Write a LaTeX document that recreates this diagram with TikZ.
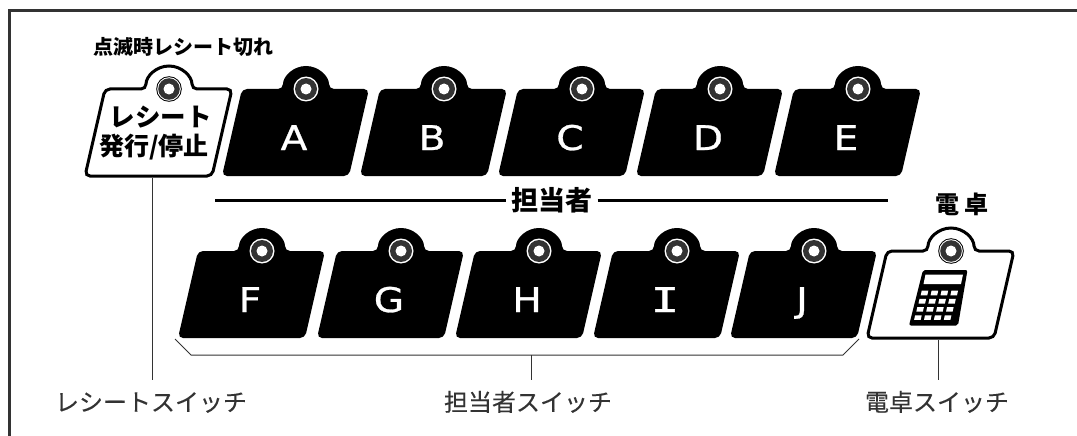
\documentclass[tikz,border=0pt]{standalone}
\usepackage{fontspec}
\setmainfont{Noto Sans CJK JP}
\newfontfamily\labelfont[FakeBold=0.25]{Noto Sans CJK JP}
\newfontfamily\keyfont[FakeStretch=1.15,FakeBold=0.8]{DejaVu Sans}
\newfontfamily\keymono[FakeStretch=1.4,FakeBold=0.8]{DejaVu Sans Mono}
\usetikzlibrary{positioning}
\definecolor{inkgray}{HTML}{333333}

\tikzset{
  keyshape/.pic={
    \path[pic actions,rounded corners=5pt] (-64,0) -- (-23,0)
      arc[start angle=180,end angle=0,radius=23] -- (63,0)
      -- (43,-87) -- (-84,-87) -- cycle;
  },
  blackkey/.pic={
    \pic[fill=black] {keyshape};
    \fill[white] (0,0) circle (12.5);
    \fill[inkgray] (0,0) circle (11);
    \fill[white] (0,0) circle (5.5);
  },
  whitekey/.pic={
    \pic[draw=black,fill=white,line width=3pt] {keyshape};
    \fill[black] (0,0) circle (12.8);
    \fill[white] (0,0) circle (11.8);
    \fill[inkgray] (0,0) circle (10.8);
    \fill[white] (0,0) circle (5.5);
  }
}

\begin{document}
\begin{tikzpicture}[x=1pt,y=1pt,
    keyletter/.style={anchor=base,inner sep=0pt,text=white,
      font=\keyfont\fontsize{34}{34}\selectfont},
    boldtext/.style={inner sep=0pt,text=black,font=\bfseries\fontsize{20}{24}\selectfont},
    swlabel/.style={anchor=base,inner sep=0pt,text height=31pt,text=inkgray,
      font=\labelfont\fontsize{24}{28}\selectfont},
    leader/.style={draw=inkgray,line width=1pt}]

  \useasboundingbox (0,0) rectangle (1077,-436);

  % frame, open to the right and below
  \draw[inkgray,line width=3pt] (9,-436) -- (9,-11) -- (1077,-11);

  \foreach \name/\x in {A/306,B/444,C/582,D/720,E/858} {
    \pic at (\x,-89) {blackkey};
    \node[keyletter] (key\name) at (\x-12,-150) {\name};
  }
  \foreach \name/\x in {F/262,G/401,H/539,J/814} {
    \pic at (\x,-251) {blackkey};
    \node[keyletter] (key\name) at (\x-12,-312) {\name};
  }
  \pic at (677,-251) {blackkey};
  \node[keyletter] (keyI) at (665,-312) {\keymono I};

  \pic at (169,-89) {whitekey};
  \node[boldtext,font=\bfseries\fontsize{25.5}{28}\selectfont] (rkeytop) at (160.5,-117) {レシート};
  \node[boldtext,font=\bfseries\fontsize{25}{28}\selectfont] (rkeybottom) at (154,-147) {発行/停止};
  \node[boldtext] (rnote) at (183.5,-47) {点滅時レシート切れ};

  \pic at (951,-251) {whitekey};
  \node[boldtext,font=\bfseries\fontsize{24}{28}\selectfont] (calcnote) at (962,-204) {電\hspace{5pt}卓};

  % calculator
  \fill[black,rounded corners=2pt] (923,-270) -- (967.5,-270) -- (958,-325.5) -- (909,-325.5) -- cycle;
  \fill[white] (925.5,-274.5) -- (963,-274.5) -- (961,-284) -- (923.5,-284) -- cycle;
  \foreach \i in {0,1,2,3} {
    \foreach \j in {0,1,2,3} {
      \fill[white,shift={(921.7+9.9*\j-2.2*\i,-290.7-8.2*\i)}]
        (0,0) -- (6.6,0) -- (5.6,-4.6) -- (-1,-4.6) -- cycle;
    }
  }

  % title line of the middle group
  \coordinate (headleft) at (215,-200.7);
  \coordinate (headright) at (888,-200.7);
  \node[boldtext,inner xsep=5pt,font=\bfseries\fontsize{27}{30}\selectfont] (head) at (552,-200.7) {担当者};
  \draw[black,line width=3pt] (headleft) -- (head) -- (headright);

  % lower labels
  \node[swlabel] (rlabel) at (151,-411) {レシートスイッチ};
  \node[swlabel] (stafflabel) at (528,-411) {担当者スイッチ};
  \node[swlabel] (calclabel) at (937,-411) {電卓スイッチ};

  \coordinate (rfoot) at (152.7,-178);
  \coordinate (calcfoot) at (938,-340);
  \coordinate (bracketleft) at (175,-339);
  \coordinate (bracketcornerl) at (191,-355);
  \coordinate (bracketcornerr) at (843,-355);
  \coordinate (bracketright) at (859,-339);
  \coordinate (bracketmid) at (531,-355);

  \draw[leader] (rfoot) -- (rfoot |- rlabel.north);
  \draw[leader] (calcfoot) -- (calcfoot |- calclabel.north);
  \draw[leader] (bracketleft) -- (bracketcornerl) -- (bracketcornerr) -- (bracketright);
  \draw[leader] (bracketmid) -- (bracketmid |- stafflabel.north);
\end{tikzpicture}
\end{document}
